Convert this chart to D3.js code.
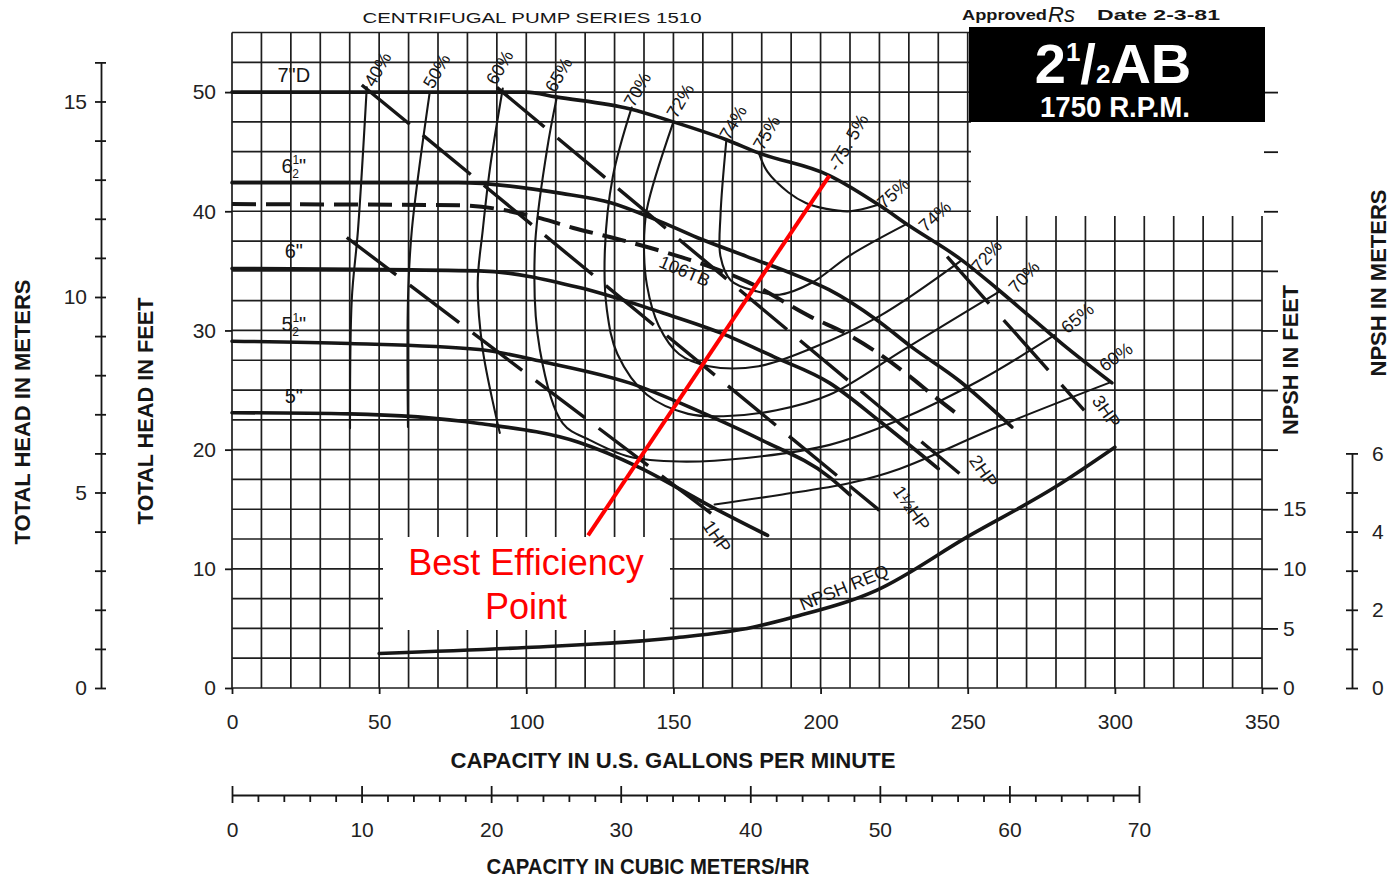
<!DOCTYPE html>
<html>
<head>
<meta charset="utf-8">
<title>Centrifugal Pump Series 1510 – 2½AB, 1750 RPM</title>
<script src="https://cdn.jsdelivr.net/npm/d3@7"></script>
<style>
  html, body { margin: 0; padding: 0; background: #ffffff; }
  svg { display: block; }
  text { font-family: "Liberation Sans", Arial, sans-serif; }
</style>
</head>
<body>
<svg id="chart" width="1396" height="878"></svg>
<script>
// ---------- tick values ----------
const gpmTicks    = [0, 50, 100, 150, 200, 250, 300, 350];
const headFtTicks = [0, 10, 20, 30, 40, 50];
const headMTicks  = [0, 5, 10, 15];
const npshFtTicks = [0, 5, 10, 15];
const npshMTicks  = [0, 2, 4, 6];
const cmhTicks    = [0, 10, 20, 30, 40, 50, 60, 70];

// ---------- head-capacity curves, [gpm, ft] ----------
const imp7  = [[0,50],[60,50],[100,50],[110,49.6],[135,48.6],[150,47.5],[168,46.0],[179,44.9],[203,43.0],[220,40.5],[230,38.8],[248,35.9],[260,33.5],[271,31.2],[282,28.9],[299,25.6]];
const imp65 = [[0,42.4],[77,42.4],[112,41.5],[129,40.7],[144,39.3],[158,37.8],[175,36.2],[192,34.6],[203,33.4],[219,30.9],[231,28.6],[247,25.8],[265,21.9]];
const imp6  = [[0,35.2],[84,35.0],[118,33.6],[146,31.5],[166,29.8],[184,27.8],[203,25.6],[220,22.4],[240,18.4]];
const imp55 = [[0,29.1],[40,28.9],[84,28.4],[107,27.3],[135,25.6],[158,23.3],[180,20.8],[203,17.7],[210,16.2]];
const imp5  = [[0,23.1],[40,23.0],[84,22.2],[118,20.6],[138.5,18.5],[163,15.2],[182,12.8]];
const trim106TB = [[0,40.6],[77,40.5],[105,39.4],[116,38.6],[129,37.8],[148,36.5],[163,35.3],[175,34.1],[197,31.1],[209,29.7],[229,26.4],[239,24.4],[248,22.7]];

// ---------- iso-efficiency curves, [gpm, ft] ----------
const eff40  = [[45.8,50.4],[42.8,38.4],[40.7,32.6],[40.1,21.8]];
const eff50  = [[67.2,50.0],[61.1,38.4],[59.8,32.6],[59.8,21.9]];
const eff60a = [[92,50.3],[87.6,43.5],[85.2,38.4],[83.5,34.0],[85.2,28.4],[91,21.4]];
const eff60b = [[164,15.4],[186,16.2],[210,17.2],[227,18.4],[261,22.0],[298,25.6]];
const eff65  = [[110.4,49.6],[107,45.1],[102.9,36.7],[104.6,28.4],[112.4,22.2],[121.6,20.8],[135.1,19.4],[152.1,19.0],[174.9,19.3],[203.1,20.4],[226.8,22.5],[254,25.8],[279.5,29.6]];
const eff70  = [[135.8,48.7],[129.4,42.9],[126.7,36.7],[127.4,31.7],[131,28.0],[141,24.6],[155,23.0],[167,22.8],[185,23.3],[203,24.6],[229,28.5],[261,33.3]];
const eff72  = [[150,47.5],[141,40.2],[140,37.2],[141,33.8],[145,30.4],[152,28.0],[162,27.0],[179,27.0],[197,28.5],[220,31.2],[248,35.9]];
const eff74  = [[168,46.0],[166,39.7],[166,36.2],[169.5,34.2],[178,33.3],[186,33.0],[197,34.0],[210,36.3],[229,38.9]];
const eff75  = [[179,44.9],[182,43.3],[189,41.6],[195,40.7],[202,40.2],[210,40.0],[219,40.5]];

// ---------- constant brake-horsepower lines, [gpm, ft] ----------
const hp1  = [[39,37.8],[164.7,14.3]];
const hp15 = [[44.1,50.6],[220,14.9]];
const hp2  = [[90,50.4],[247.2,18.0]];
const hp3  = [[243,36.2],[290.3,23.1]];

// ---------- NPSH required, [gpm, ft] ----------
const npshReq = [[50,2.9],[100,3.4],[150,4.2],[177,5.1],[190,5.9],[219,8.2],[250,12.7],[280,16.9],[300,20.2]];

// ---------- best efficiency point callout ----------
const bep = [203, 43.0];
const bepCalloutFoot = [121, 12.8];

// ---------- scales ----------
const FT_PER_M = 3.28084;
const GPM_PER_CMH = 4.40287;
const x = d3.scaleLinear().domain([0, 350]).range([232, 1262]);
const y = d3.scaleLinear().domain([0, 55]).range([688, 32.5]);
const yM = d3.scaleLinear().domain([0, 16]).range([y(0), y(16 * FT_PER_M)]);
const yNpshM = d3.scaleLinear().domain([0, 6]).range([y(0), y(6 * FT_PER_M)]);
const xCmh = d3.scaleLinear().domain([0, 70]).range([x(0), x(70 * GPM_PER_CMH)]);

const svg = d3.select("#chart");
const INK = "#161616";

// ---------- grid ----------
const grid = svg.append("g").attr("stroke", "#1e1e1e").attr("stroke-width", 1.7);
d3.range(0, 351, 10).forEach(q => {
  grid.append("line").attr("x1", x(q)).attr("x2", x(q)).attr("y1", y(0)).attr("y2", y(55));
});
d3.range(0, 55.01, 2.5).forEach(h => {
  grid.append("line").attr("x1", x(0)).attr("x2", x(350)).attr("y1", y(h)).attr("y2", y(h));
});

// ---------- axes ----------
function styleAxis(g, size) {
  g.selectAll("path.domain").attr("stroke", INK).attr("stroke-width", 1.8);
  g.selectAll(".tick line").attr("stroke", INK).attr("stroke-width", 1.8);
  g.selectAll(".tick text").attr("fill", "#222").attr("font-size", size)
    .attr("font-family", "'Liberation Sans', Arial, sans-serif");
}

// head in feet (left, on grid edge)
const axFt = svg.append("g").attr("transform", `translate(${x(0)},0)`)
  .call(d3.axisLeft(y).tickValues(headFtTicks).tickSize(7).tickPadding(9).tickSizeOuter(0));
axFt.select("path.domain").remove();
styleAxis(axFt, 21);

// head in meters (far left)
const axM = svg.append("g").attr("transform", "translate(101,0)")
  .call(d3.axisLeft(yM).tickValues(d3.range(0, 17, 1)).tickSize(6).tickPadding(8).tickSizeOuter(0)
    .tickFormat(d => headMTicks.includes(d) ? d : ""));
styleAxis(axM, 21);
axM.selectAll(".tick line").attr("x1", 5).attr("x2", -6);

// capacity gpm (bottom)
const axQ = svg.append("g").attr("transform", `translate(0,${y(0)})`)
  .call(d3.axisBottom(x).tickValues(gpmTicks).tickSize(6).tickPadding(20).tickSizeOuter(0));
axQ.select("path.domain").remove();
styleAxis(axQ, 21);

// capacity m3/hr (second scale)
const axC = svg.append("g").attr("transform", "translate(0,795)")
  .call(d3.axisBottom(xCmh).tickValues(d3.range(0, 71, 2)).tickSize(7).tickPadding(20).tickSizeOuter(0)
    .tickFormat(d => cmhTicks.includes(d) ? d : ""));
styleAxis(axC, 21);
axC.selectAll(".tick").filter(d => cmhTicks.includes(d)).select("line").attr("y1", -9).attr("y2", 8);

// NPSH in feet (right edge of grid)
const axN = svg.append("g").attr("transform", `translate(${x(350)},0)`)
  .call(d3.axisRight(y).tickValues(d3.range(0, 51, 5)).tickSize(16).tickPadding(5).tickSizeOuter(0)
    .tickFormat(d => npshFtTicks.includes(d) ? d : ""));
axN.select("path.domain").remove();
styleAxis(axN, 21);

// NPSH in meters (far right)
const axNM = svg.append("g").attr("transform", "translate(1352,0)")
  .call(d3.axisRight(yNpshM).tickValues(d3.range(0, 7, 1)).tickSize(6).tickPadding(14).tickSizeOuter(0)
    .tickFormat(d => npshMTicks.includes(d) ? d : ""));
styleAxis(axNM, 21);
axNM.selectAll(".tick line").attr("x1", -6).attr("x2", 6);

// ---------- curves ----------
const smoothX = d3.line().x(d => x(d[0])).y(d => y(d[1])).curve(d3.curveMonotoneX);
const smooth  = d3.line().x(d => x(d[0])).y(d => y(d[1])).curve(d3.curveCatmullRom.alpha(0.5));
const straight = d3.line().x(d => x(d[0])).y(d => y(d[1]));

const curves = svg.append("g").attr("fill", "none").attr("stroke", INK)
  .attr("stroke-linecap", "round").attr("stroke-linejoin", "round");

// efficiency contours (thin)
[eff40, eff50, eff60a, eff60b, eff65, eff70, eff72, eff74, eff75].forEach(c => {
  curves.append("path").attr("d", smooth(c)).attr("stroke-width", 2.1);
});

// impeller diameter curves (heavy)
[imp7, imp65, imp6, imp55, imp5].forEach(c => {
  curves.append("path").attr("d", smoothX(c)).attr("stroke-width", 3.6);
});

// 106TB trim (heavy dashed)
curves.append("path").attr("d", smoothX(trim106TB)).attr("stroke-width", 4)
  .attr("stroke-linecap", "butt").attr("stroke-dasharray", "24,10");

// horsepower lines (heavy long dashes)
[[hp1, "62,17"], [hp15, "62,17"], [hp2, "62,17"], [hp3, "63,22,67,20,34,40"]].forEach(([c, dash]) => {
  curves.append("path").attr("d", straight(c)).attr("stroke-width", 3.4)
    .attr("stroke-linecap", "butt").attr("stroke-dasharray", dash);
});

// NPSH required
curves.append("path").attr("d", smoothX(npshReq)).attr("stroke-width", 3.6);

// ---------- curve labels ----------
const LABEL_FONT = "'DejaVu Sans Condensed', 'DejaVu Sans', sans-serif";
const lab = svg.append("g").attr("fill", INK).attr("font-family", LABEL_FONT);

function placeText(px, py, txt, size, rot) {
  return lab.append("text")
    .attr("transform", `translate(${px},${py}) rotate(${rot || 0})`)
    .attr("text-anchor", "middle").attr("dominant-baseline", "central")
    .attr("font-size", size).text(txt);
}
function labelAt(pt, dx, dy, txt, size, rot) {
  return placeText(x(pt[0]) + dx, y(pt[1]) + dy, txt, size, rot);
}

// impeller sizes, written just above each curve near the shutoff end;
// half sizes get a stacked 1 over 2
[[imp7, "7", '"D'], [imp65, "6", '"', true], [imp6, "6", '"'], [imp55, "5", '"', true], [imp5, "5", '"']]
  .forEach(([c, whole, tail, half]) => {
    const t = lab.append("text")
      .attr("x", x(21)).attr("y", y(c[0][1]) - 10)
      .attr("text-anchor", "middle").attr("font-size", 20).text(whole);
    if (half) {
      t.append("tspan").attr("font-size", 12).attr("dy", -9).text("1");
      t.append("tspan").attr("font-size", 12).attr("dx", -7).attr("dy", 14).text("2");
      t.append("tspan").attr("dy", -5).text(tail);
    } else {
      t.append("tspan").text(tail);
    }
  });

// efficiency labels at the top of each contour
[[eff40, "40%", 11, -18], [eff50, "50%", 7, -21], [eff60a, "60%", -3, -21], [eff65, "65%", 2, -22],
 [eff70, "70%", 6, -18], [eff72, "72%", 7, -21], [eff74, "74%", 7, -17], [eff75, "75%", 8, -20]]
  .forEach(([c, t, dx, dy]) => labelAt(c[0], dx, dy, t, 18, -60));

// efficiency labels where the contours meet the 7" curve on the right
[[eff75, "75%", 17, -12, -42], [eff74, "74%", 29, -8, -42], [eff72, "72%", 25, -4, -50], [eff70, "70%", 24, -14, -48],
 [eff65, "65%", 23, -17, -40], [eff60b, "60%", 7, -26, -35]]
  .forEach(([c, t, dx, dy, r]) => labelAt(c[c.length - 1], dx, dy, t, 18, r));

labelAt(bep, 19, -33, "-75. 5%", 18, -60);

// horsepower labels at the lower end of each line
[[hp1, "1HP", 0, 19], [hp15, "1½HP", 32, -2], [hp2, "2HP", 24, -2], [hp3, "3HP", 20, -1]]
  .forEach(([c, t, dx, dy]) => labelAt(c[1], dx, dy, t, 18, 55));

labelAt([155.5, 35.8], -5, 10, "106TB", 18, 23);
labelAt([208, 7.0], 0, -17, "NPSH REQ", 18, -22);

// ---------- header ----------
svg.append("text").attr("x", 532).attr("y", 23).attr("text-anchor", "middle")
  .attr("font-family", "'DejaVu Sans', sans-serif").attr("font-size", 15).attr("fill", INK)
  .attr("textLength", 339).attr("lengthAdjust", "spacingAndGlyphs")
  .text("CENTRIFUGAL PUMP SERIES 1510");
svg.append("text").attr("x", 962).attr("y", 20)
  .attr("font-family", "'DejaVu Sans Mono', monospace").attr("font-weight", "bold").attr("font-size", 14).attr("fill", INK)
  .attr("textLength", 85).attr("lengthAdjust", "spacingAndGlyphs").text("Approved");
svg.append("text").attr("x", 1048).attr("y", 22)
  .attr("font-family", "'DejaVu Serif', serif").attr("font-style", "italic").attr("font-size", 22).attr("fill", INK)
  .text("Rs");
svg.append("text").attr("x", 1097).attr("y", 20)
  .attr("font-family", "'DejaVu Sans Mono', monospace").attr("font-weight", "bold").attr("font-size", 14).attr("fill", INK)
  .attr("textLength", 123).attr("lengthAdjust", "spacingAndGlyphs").text("Date 2-3-81");

// model block
svg.append("rect").attr("x", 969).attr("y", 27).attr("width", 296).attr("height", 95).attr("fill", "#000");
svg.append("rect").attr("x", 971).attr("y", 122).attr("width", 293).attr("height", 94).attr("fill", "#fff");
const model = svg.append("text").attr("x", 1113).attr("y", 83).attr("text-anchor", "middle")
  .attr("fill", "#fff").attr("font-weight", "bold")
  .attr("font-family", "'Liberation Sans Narrow', 'Liberation Sans', Arial, sans-serif");
model.append("tspan").attr("font-size", 56).text("2");
model.append("tspan").attr("font-size", 26).attr("dy", -22).text("1");
model.append("tspan").attr("font-size", 56).attr("dy", 22).text("/");
model.append("tspan").attr("font-size", 26).text("2");
model.append("tspan").attr("font-size", 56).text("AB");
svg.append("text").attr("x", 1115).attr("y", 117).attr("text-anchor", "middle")
  .attr("fill", "#fff").attr("font-weight", "bold").attr("font-size", 29)
  .attr("font-family", "'Liberation Sans Narrow', 'Liberation Sans', Arial, sans-serif")
  .attr("textLength", 150).attr("lengthAdjust", "spacingAndGlyphs").text("1750 R.P.M.");

// ---------- axis titles ----------
function title(px, py, txt, len, rot) {
  svg.append("text").attr("transform", `translate(${px},${py}) rotate(${rot})`)
    .attr("text-anchor", "middle").attr("dominant-baseline", "central")
    .attr("font-family", "'Liberation Sans Narrow', 'Liberation Sans', Arial, sans-serif")
    .attr("font-weight", "bold").attr("font-size", 22).attr("fill", INK)
    .attr("textLength", len).attr("lengthAdjust", "spacingAndGlyphs").text(txt);
}
title(22, 412, "TOTAL HEAD IN METERS", 265, -90);
title(145, 411, "TOTAL HEAD IN FEET", 227, -90);
title(1290, 360, "NPSH IN FEET", 150, -90);
title(1378, 283, "NPSH IN METERS", 187, -90);
title(673, 760, "CAPACITY IN U.S. GALLONS PER MINUTE", 445, 0);
title(648, 866, "CAPACITY IN CUBIC METERS/HR", 323, 0);

// ---------- best efficiency point callout ----------
svg.append("rect").attr("x", 383).attr("y", 537).attr("width", 287).attr("height", 93).attr("fill", "#fff");
svg.append("line")
  .attr("x1", x(bepCalloutFoot[0])).attr("y1", y(bepCalloutFoot[1]))
  .attr("x2", x(bep[0])).attr("y2", y(bep[1]))
  .attr("stroke", "#ff0000").attr("stroke-width", 4);
const bepText = svg.append("text").attr("text-anchor", "middle").attr("fill", "#ff0000")
  .attr("font-size", 36).attr("font-family", "'Liberation Sans', Arial, sans-serif");
bepText.append("tspan").attr("x", 526).attr("y", 575).text("Best Efficiency");
bepText.append("tspan").attr("x", 526).attr("y", 619).text("Point");
</script>
</body>
</html>
